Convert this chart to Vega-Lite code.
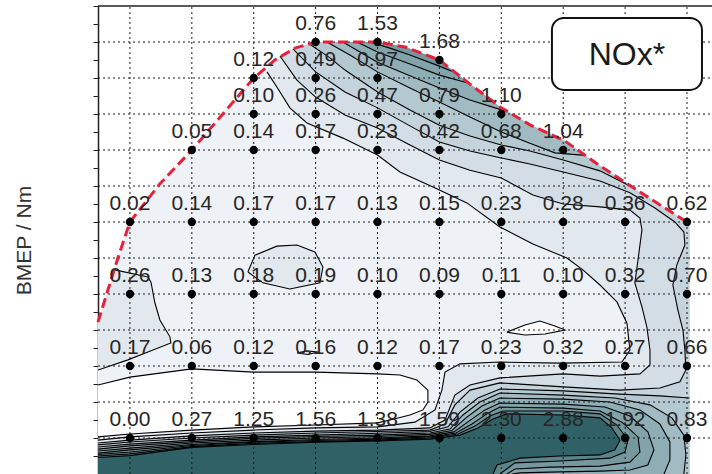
{
  "$schema": "https://vega.github.io/schema/vega-lite/v6.json",
  "width": 614,
  "height": 468,
  "autosize": {"type": "none"},
  "padding": {"left": 98, "top": 6, "right": 0, "bottom": 0},
  "background": "white",
  "config": {
    "view": {"stroke": null},
    "font": "Liberation Sans",
    "axisY": {
      "labels": false, "grid": false, "tickCount": 26,
      "ticks": true, "tickSize": 5, "tickColor": "#222", "tickWidth": 1,
      "domain": true, "domainColor": "#222", "domainWidth": 1.5,
      "titleFont": "Liberation Sans", "titleFontSize": 21, "titleFontWeight": "normal", "titleColor": "#333",
      "titleAngle": 270, "titleX": -74, "titleY": 234, "titleAlign": "center", "titleBaseline": "middle",
      "zindex": 1
    }
  },
  "datasets": {
    "fullload": [
      {"seq": 0, "rpm": 742, "bmep": 42.2}, {"seq": 1, "rpm": 822, "bmep": 51.1}, {"seq": 2, "rpm": 903, "bmep": 60},
      {"seq": 3, "rpm": 1000, "bmep": 70}, {"seq": 4, "rpm": 1242, "bmep": 80.6}, {"seq": 5, "rpm": 1500, "bmep": 90},
      {"seq": 6, "rpm": 1743, "bmep": 99.7}, {"seq": 7, "rpm": 2000, "bmep": 110}, {"seq": 8, "rpm": 2171, "bmep": 115},
      {"seq": 9, "rpm": 2333, "bmep": 118.3}, {"seq": 10, "rpm": 2500, "bmep": 120}, {"seq": 11, "rpm": 3000, "bmep": 120},
      {"seq": 12, "rpm": 3222, "bmep": 118.6}, {"seq": 13, "rpm": 3500, "bmep": 115}, {"seq": 14, "rpm": 3747, "bmep": 108.3},
      {"seq": 15, "rpm": 4000, "bmep": 101.7}, {"seq": 16, "rpm": 4231, "bmep": 97}, {"seq": 17, "rpm": 4514, "bmep": 92.5},
      {"seq": 18, "rpm": 4797, "bmep": 85.6}, {"seq": 19, "rpm": 5120, "bmep": 78.3}, {"seq": 20, "rpm": 5500, "bmep": 70}
    ],
    "pts": [
      {"rpm": 1000, "bmep": 10, "v": 0.00}, {"rpm": 1500, "bmep": 10, "v": 0.27}, {"rpm": 2000, "bmep": 10, "v": 1.25},
      {"rpm": 2500, "bmep": 10, "v": 1.56}, {"rpm": 3000, "bmep": 10, "v": 1.38}, {"rpm": 3500, "bmep": 10, "v": 1.59},
      {"rpm": 4000, "bmep": 10, "v": 2.30}, {"rpm": 4500, "bmep": 10, "v": 2.88}, {"rpm": 5000, "bmep": 10, "v": 1.92},
      {"rpm": 5500, "bmep": 10, "v": 0.83},
      {"rpm": 1000, "bmep": 30, "v": 0.17}, {"rpm": 1500, "bmep": 30, "v": 0.06}, {"rpm": 2000, "bmep": 30, "v": 0.12},
      {"rpm": 2500, "bmep": 30, "v": 0.16}, {"rpm": 3000, "bmep": 30, "v": 0.12}, {"rpm": 3500, "bmep": 30, "v": 0.17},
      {"rpm": 4000, "bmep": 30, "v": 0.23}, {"rpm": 4500, "bmep": 30, "v": 0.32}, {"rpm": 5000, "bmep": 30, "v": 0.27},
      {"rpm": 5500, "bmep": 30, "v": 0.66},
      {"rpm": 1000, "bmep": 50, "v": 0.26}, {"rpm": 1500, "bmep": 50, "v": 0.13}, {"rpm": 2000, "bmep": 50, "v": 0.18},
      {"rpm": 2500, "bmep": 50, "v": 0.19}, {"rpm": 3000, "bmep": 50, "v": 0.10}, {"rpm": 3500, "bmep": 50, "v": 0.09},
      {"rpm": 4000, "bmep": 50, "v": 0.11}, {"rpm": 4500, "bmep": 50, "v": 0.10}, {"rpm": 5000, "bmep": 50, "v": 0.32},
      {"rpm": 5500, "bmep": 50, "v": 0.70},
      {"rpm": 1000, "bmep": 70, "v": 0.02}, {"rpm": 1500, "bmep": 70, "v": 0.14}, {"rpm": 2000, "bmep": 70, "v": 0.17},
      {"rpm": 2500, "bmep": 70, "v": 0.17}, {"rpm": 3000, "bmep": 70, "v": 0.13}, {"rpm": 3500, "bmep": 70, "v": 0.15},
      {"rpm": 4000, "bmep": 70, "v": 0.23}, {"rpm": 4500, "bmep": 70, "v": 0.28}, {"rpm": 5000, "bmep": 70, "v": 0.36},
      {"rpm": 5500, "bmep": 70, "v": 0.62},
      {"rpm": 1500, "bmep": 90, "v": 0.05}, {"rpm": 2000, "bmep": 90, "v": 0.14}, {"rpm": 2500, "bmep": 90, "v": 0.17},
      {"rpm": 3000, "bmep": 90, "v": 0.23}, {"rpm": 3500, "bmep": 90, "v": 0.42}, {"rpm": 4000, "bmep": 90, "v": 0.68},
      {"rpm": 4500, "bmep": 90, "v": 1.04},
      {"rpm": 2000, "bmep": 100, "v": 0.10}, {"rpm": 2500, "bmep": 100, "v": 0.26}, {"rpm": 3000, "bmep": 100, "v": 0.47},
      {"rpm": 3500, "bmep": 100, "v": 0.79}, {"rpm": 4000, "bmep": 100, "v": 1.10},
      {"rpm": 2000, "bmep": 110, "v": 0.12}, {"rpm": 2500, "bmep": 110, "v": 0.49}, {"rpm": 3000, "bmep": 110, "v": 0.97},
      {"rpm": 3500, "bmep": 115, "v": 1.68},
      {"rpm": 2500, "bmep": 120, "v": 0.76}, {"rpm": 3000, "bmep": 120, "v": 1.53}
    ],
    "regions": [
      {"id": "E", "tone": "t0", "seq": 0, "rpm": 742, "bmep": 42.2, "line": 0},
      {"id": "E", "tone": "t0", "seq": 1, "rpm": 822, "bmep": 51.1, "line": 0},
      {"id": "E", "tone": "t0", "seq": 2, "rpm": 903, "bmep": 60, "line": 0},
      {"id": "E", "tone": "t0", "seq": 3, "rpm": 1000, "bmep": 70, "line": 0},
      {"id": "E", "tone": "t0", "seq": 4, "rpm": 1242, "bmep": 80.6, "line": 0},
      {"id": "E", "tone": "t0", "seq": 5, "rpm": 1500, "bmep": 90, "line": 0},
      {"id": "E", "tone": "t0", "seq": 6, "rpm": 1743, "bmep": 99.7, "line": 0},
      {"id": "E", "tone": "t0", "seq": 7, "rpm": 2000, "bmep": 110, "line": 0},
      {"id": "E", "tone": "t0", "seq": 8, "rpm": 2171, "bmep": 115, "line": 0},
      {"id": "E", "tone": "t0", "seq": 9, "rpm": 2333, "bmep": 118.3, "line": 0},
      {"id": "E", "tone": "t0", "seq": 10, "rpm": 2500, "bmep": 120, "line": 0},
      {"id": "E", "tone": "t0", "seq": 11, "rpm": 3000, "bmep": 120, "line": 0},
      {"id": "E", "tone": "t0", "seq": 12, "rpm": 3222, "bmep": 118.6, "line": 0},
      {"id": "E", "tone": "t0", "seq": 13, "rpm": 3500, "bmep": 115, "line": 0},
      {"id": "E", "tone": "t0", "seq": 14, "rpm": 3747, "bmep": 108.3, "line": 0},
      {"id": "E", "tone": "t0", "seq": 15, "rpm": 4000, "bmep": 101.7, "line": 0},
      {"id": "E", "tone": "t0", "seq": 16, "rpm": 4231, "bmep": 97, "line": 0},
      {"id": "E", "tone": "t0", "seq": 17, "rpm": 4514, "bmep": 92.5, "line": 0},
      {"id": "E", "tone": "t0", "seq": 18, "rpm": 4797, "bmep": 85.6, "line": 0},
      {"id": "E", "tone": "t0", "seq": 19, "rpm": 5120, "bmep": 78.3, "line": 0},
      {"id": "E", "tone": "t0", "seq": 20, "rpm": 5500, "bmep": 70, "line": 0},
      {"id": "E", "tone": "t0", "seq": 21, "rpm": 5520, "bmep": 69.5, "line": 0},
      {"id": "E", "tone": "t0", "seq": 22, "rpm": 5520, "bmep": 0, "line": 0},
      {"id": "E", "tone": "t0", "seq": 23, "rpm": 742, "bmep": 0, "line": 0},

      {"id": "L1", "tone": "t1", "seq": 0, "rpm": 2107, "bmep": 111.7, "line": 1},
      {"id": "L1", "tone": "t1", "seq": 1, "rpm": 2187, "bmep": 107.5, "line": 1},
      {"id": "L1", "tone": "t1", "seq": 2, "rpm": 2292, "bmep": 101.7, "line": 1},
      {"id": "L1", "tone": "t1", "seq": 3, "rpm": 2430, "bmep": 97.5, "line": 1},
      {"id": "L1", "tone": "t1", "seq": 4, "rpm": 2721, "bmep": 93.3, "line": 1},
      {"id": "L1", "tone": "t1", "seq": 5, "rpm": 3000, "bmep": 88.6, "line": 1},
      {"id": "L1", "tone": "t1", "seq": 6, "rpm": 3181, "bmep": 83.9, "line": 1},
      {"id": "L1", "tone": "t1", "seq": 7, "rpm": 3448, "bmep": 79.7, "line": 1},
      {"id": "L1", "tone": "t1", "seq": 8, "rpm": 3722, "bmep": 75.3, "line": 1},
      {"id": "L1", "tone": "t1", "seq": 9, "rpm": 3989, "bmep": 68.6, "line": 1},
      {"id": "L1", "tone": "t1", "seq": 10, "rpm": 4255, "bmep": 63.9, "line": 1},
      {"id": "L1", "tone": "t1", "seq": 11, "rpm": 4530, "bmep": 60, "line": 1},
      {"id": "L1", "tone": "t1", "seq": 12, "rpm": 4659, "bmep": 56.7, "line": 1},
      {"id": "L1", "tone": "t1", "seq": 13, "rpm": 4797, "bmep": 52.5, "line": 1},
      {"id": "L1", "tone": "t1", "seq": 14, "rpm": 4934, "bmep": 47.8, "line": 1},
      {"id": "L1", "tone": "t1", "seq": 15, "rpm": 5015, "bmep": 41.9, "line": 1},
      {"id": "L1", "tone": "t1", "seq": 16, "rpm": 5039, "bmep": 34.4, "line": 1},
      {"id": "L1", "tone": "t1", "seq": 17, "rpm": 4974, "bmep": 31.1, "line": 1},
      {"id": "L1", "tone": "t1", "seq": 18, "rpm": 4474, "bmep": 30.8, "line": 1},
      {"id": "L1", "tone": "t1", "seq": 19, "rpm": 3989, "bmep": 31.1, "line": 1},
      {"id": "L1", "tone": "t1", "seq": 20, "rpm": 3666, "bmep": 30.6, "line": 1},
      {"id": "L1", "tone": "t1", "seq": 21, "rpm": 3545, "bmep": 28.3, "line": 1},
      {"id": "L1", "tone": "t1", "seq": 22, "rpm": 3520, "bmep": 23.3, "line": 1},
      {"id": "L1", "tone": "t1", "seq": 23, "rpm": 3464, "bmep": 17.8, "line": 1},
      {"id": "L1", "tone": "t1", "seq": 24, "rpm": 3302, "bmep": 14.4, "line": 1},
      {"id": "L1", "tone": "t1", "seq": 25, "rpm": 3000, "bmep": 13.1, "line": 1},
      {"id": "L1", "tone": "t1", "seq": 26, "rpm": 2500, "bmep": 12.8, "line": 1},
      {"id": "L1", "tone": "t1", "seq": 27, "rpm": 2000, "bmep": 12.2, "line": 1},
      {"id": "L1", "tone": "t1", "seq": 28, "rpm": 1500, "bmep": 11.4, "line": 1},
      {"id": "L1", "tone": "t1", "seq": 29, "rpm": 1000, "bmep": 10.3, "line": 1},
      {"id": "L1", "tone": "t1", "seq": 30, "rpm": 742, "bmep": 9.4, "line": 1},
      {"id": "L1", "tone": "t1", "seq": 31, "rpm": 742, "bmep": 0, "line": 0},
      {"id": "L1", "tone": "t1", "seq": 32, "rpm": 5520, "bmep": 0, "line": 0},
      {"id": "L1", "tone": "t1", "seq": 33, "rpm": 5520, "bmep": 69.5, "line": 0},
      {"id": "L1", "tone": "t1", "seq": 34, "rpm": 5500, "bmep": 70, "line": 0},
      {"id": "L1", "tone": "t1", "seq": 35, "rpm": 5120, "bmep": 78.3, "line": 0},
      {"id": "L1", "tone": "t1", "seq": 36, "rpm": 4797, "bmep": 85.6, "line": 0},
      {"id": "L1", "tone": "t1", "seq": 37, "rpm": 4514, "bmep": 92.5, "line": 0},
      {"id": "L1", "tone": "t1", "seq": 38, "rpm": 4231, "bmep": 97, "line": 0},
      {"id": "L1", "tone": "t1", "seq": 39, "rpm": 4000, "bmep": 101.7, "line": 0},
      {"id": "L1", "tone": "t1", "seq": 40, "rpm": 3747, "bmep": 108.3, "line": 0},
      {"id": "L1", "tone": "t1", "seq": 41, "rpm": 3500, "bmep": 115, "line": 0},
      {"id": "L1", "tone": "t1", "seq": 42, "rpm": 3222, "bmep": 118.6, "line": 0},
      {"id": "L1", "tone": "t1", "seq": 43, "rpm": 3000, "bmep": 120, "line": 0},
      {"id": "L1", "tone": "t1", "seq": 44, "rpm": 2500, "bmep": 120, "line": 0},
      {"id": "L1", "tone": "t1", "seq": 45, "rpm": 2333, "bmep": 118.3, "line": 0},
      {"id": "L1", "tone": "t1", "seq": 46, "rpm": 2171, "bmep": 115, "line": 0},

      {"id": "LA", "tone": "t2", "seq": 0, "rpm": 2212, "bmep": 116.1, "line": 1},
      {"id": "LA", "tone": "t2", "seq": 1, "rpm": 2349, "bmep": 109.4, "line": 1},
      {"id": "LA", "tone": "t2", "seq": 2, "rpm": 2500, "bmep": 104.7, "line": 1},
      {"id": "LA", "tone": "t2", "seq": 3, "rpm": 2737, "bmep": 99.7, "line": 1},
      {"id": "LA", "tone": "t2", "seq": 4, "rpm": 3000, "bmep": 96.1, "line": 1},
      {"id": "LA", "tone": "t2", "seq": 5, "rpm": 3262, "bmep": 91.4, "line": 1},
      {"id": "LA", "tone": "t2", "seq": 6, "rpm": 3500, "bmep": 87.2, "line": 1},
      {"id": "LA", "tone": "t2", "seq": 7, "rpm": 3747, "bmep": 84.4, "line": 1},
      {"id": "LA", "tone": "t2", "seq": 8, "rpm": 4000, "bmep": 82.2, "line": 1},
      {"id": "LA", "tone": "t2", "seq": 9, "rpm": 4255, "bmep": 77.5, "line": 1},
      {"id": "LA", "tone": "t2", "seq": 10, "rpm": 4500, "bmep": 75, "line": 1},
      {"id": "LA", "tone": "t2", "seq": 11, "rpm": 4797, "bmep": 74.2, "line": 1},
      {"id": "LA", "tone": "t2", "seq": 12, "rpm": 5039, "bmep": 73.3, "line": 1},
      {"id": "LA", "tone": "t2", "seq": 13, "rpm": 5120, "bmep": 71.1, "line": 1},
      {"id": "LA", "tone": "t2", "seq": 14, "rpm": 5136, "bmep": 67.8, "line": 1},
      {"id": "LA", "tone": "t2", "seq": 15, "rpm": 5104, "bmep": 59.4, "line": 1},
      {"id": "LA", "tone": "t2", "seq": 16, "rpm": 5079, "bmep": 53.1, "line": 1},
      {"id": "LA", "tone": "t2", "seq": 17, "rpm": 5136, "bmep": 46.4, "line": 1},
      {"id": "LA", "tone": "t2", "seq": 18, "rpm": 5176, "bmep": 40.8, "line": 1},
      {"id": "LA", "tone": "t2", "seq": 19, "rpm": 5201, "bmep": 34.4, "line": 1},
      {"id": "LA", "tone": "t2", "seq": 20, "rpm": 5201, "bmep": 30.3, "line": 1},
      {"id": "LA", "tone": "t2", "seq": 21, "rpm": 5120, "bmep": 27.8, "line": 1},
      {"id": "LA", "tone": "t2", "seq": 22, "rpm": 4797, "bmep": 27.2, "line": 1},
      {"id": "LA", "tone": "t2", "seq": 23, "rpm": 4500, "bmep": 27.8, "line": 1},
      {"id": "LA", "tone": "t2", "seq": 24, "rpm": 3989, "bmep": 26.7, "line": 1},
      {"id": "LA", "tone": "t2", "seq": 25, "rpm": 3747, "bmep": 24.7, "line": 1},
      {"id": "LA", "tone": "t2", "seq": 26, "rpm": 3625, "bmep": 21.9, "line": 1},
      {"id": "LA", "tone": "t2", "seq": 27, "rpm": 3545, "bmep": 15, "line": 1},
      {"id": "LA", "tone": "t2", "seq": 28, "rpm": 3423, "bmep": 12.8, "line": 1},
      {"id": "LA", "tone": "t2", "seq": 29, "rpm": 3000, "bmep": 12.2, "line": 1},
      {"id": "LA", "tone": "t2", "seq": 30, "rpm": 2500, "bmep": 11.9, "line": 1},
      {"id": "LA", "tone": "t2", "seq": 31, "rpm": 2000, "bmep": 11.4, "line": 1},
      {"id": "LA", "tone": "t2", "seq": 32, "rpm": 1500, "bmep": 10.6, "line": 1},
      {"id": "LA", "tone": "t2", "seq": 33, "rpm": 1000, "bmep": 9.4, "line": 1},
      {"id": "LA", "tone": "t2", "seq": 34, "rpm": 742, "bmep": 8.6, "line": 1},
      {"id": "LA", "tone": "t2", "seq": 35, "rpm": 742, "bmep": 0, "line": 0},
      {"id": "LA", "tone": "t2", "seq": 36, "rpm": 5520, "bmep": 0, "line": 0},
      {"id": "LA", "tone": "t2", "seq": 37, "rpm": 5520, "bmep": 69.5, "line": 0},
      {"id": "LA", "tone": "t2", "seq": 38, "rpm": 5500, "bmep": 70, "line": 0},
      {"id": "LA", "tone": "t2", "seq": 39, "rpm": 5120, "bmep": 78.3, "line": 0},
      {"id": "LA", "tone": "t2", "seq": 40, "rpm": 4797, "bmep": 85.6, "line": 0},
      {"id": "LA", "tone": "t2", "seq": 41, "rpm": 4514, "bmep": 92.5, "line": 0},
      {"id": "LA", "tone": "t2", "seq": 42, "rpm": 4231, "bmep": 97, "line": 0},
      {"id": "LA", "tone": "t2", "seq": 43, "rpm": 4000, "bmep": 101.7, "line": 0},
      {"id": "LA", "tone": "t2", "seq": 44, "rpm": 3747, "bmep": 108.3, "line": 0},
      {"id": "LA", "tone": "t2", "seq": 45, "rpm": 3500, "bmep": 115, "line": 0},
      {"id": "LA", "tone": "t2", "seq": 46, "rpm": 3222, "bmep": 118.6, "line": 0},
      {"id": "LA", "tone": "t2", "seq": 47, "rpm": 3000, "bmep": 120, "line": 0},
      {"id": "LA", "tone": "t2", "seq": 48, "rpm": 2500, "bmep": 120, "line": 0},
      {"id": "LA", "tone": "t2", "seq": 49, "rpm": 2333, "bmep": 118.3, "line": 0},

      {"id": "LB", "tone": "t3", "seq": 0, "rpm": 2317, "bmep": 118.1, "line": 1},
      {"id": "LB", "tone": "t3", "seq": 1, "rpm": 2500, "bmep": 111.7, "line": 1},
      {"id": "LB", "tone": "t3", "seq": 2, "rpm": 2737, "bmep": 106.1, "line": 1},
      {"id": "LB", "tone": "t3", "seq": 3, "rpm": 3000, "bmep": 101.7, "line": 1},
      {"id": "LB", "tone": "t3", "seq": 4, "rpm": 3262, "bmep": 96.7, "line": 1},
      {"id": "LB", "tone": "t3", "seq": 5, "rpm": 3500, "bmep": 92.2, "line": 1},
      {"id": "LB", "tone": "t3", "seq": 6, "rpm": 3747, "bmep": 89.7, "line": 1},
      {"id": "LB", "tone": "t3", "seq": 7, "rpm": 4000, "bmep": 87.8, "line": 1},
      {"id": "LB", "tone": "t3", "seq": 8, "rpm": 4231, "bmep": 86.1, "line": 1},
      {"id": "LB", "tone": "t3", "seq": 9, "rpm": 4500, "bmep": 83.9, "line": 1},
      {"id": "LB", "tone": "t3", "seq": 10, "rpm": 4797, "bmep": 81.4, "line": 1},
      {"id": "LB", "tone": "t3", "seq": 11, "rpm": 5039, "bmep": 78.1, "line": 1},
      {"id": "LB", "tone": "t3", "seq": 12, "rpm": 5241, "bmep": 73.9, "line": 1},
      {"id": "LB", "tone": "t3", "seq": 13, "rpm": 5402, "bmep": 70, "line": 1},
      {"id": "LB", "tone": "t3", "seq": 14, "rpm": 5475, "bmep": 67.2, "line": 1},
      {"id": "LB", "tone": "t3", "seq": 15, "rpm": 5483, "bmep": 63.6, "line": 1},
      {"id": "LB", "tone": "t3", "seq": 16, "rpm": 5418, "bmep": 58.1, "line": 1},
      {"id": "LB", "tone": "t3", "seq": 17, "rpm": 5386, "bmep": 52.5, "line": 1},
      {"id": "LB", "tone": "t3", "seq": 18, "rpm": 5426, "bmep": 45.6, "line": 1},
      {"id": "LB", "tone": "t3", "seq": 19, "rpm": 5467, "bmep": 40, "line": 1},
      {"id": "LB", "tone": "t3", "seq": 20, "rpm": 5483, "bmep": 34.4, "line": 1},
      {"id": "LB", "tone": "t3", "seq": 21, "rpm": 5491, "bmep": 28.9, "line": 1},
      {"id": "LB", "tone": "t3", "seq": 22, "rpm": 5443, "bmep": 25.6, "line": 1},
      {"id": "LB", "tone": "t3", "seq": 23, "rpm": 5281, "bmep": 23.9, "line": 1},
      {"id": "LB", "tone": "t3", "seq": 24, "rpm": 4958, "bmep": 23.3, "line": 1},
      {"id": "LB", "tone": "t3", "seq": 25, "rpm": 4500, "bmep": 24.2, "line": 1},
      {"id": "LB", "tone": "t3", "seq": 26, "rpm": 3989, "bmep": 25.3, "line": 1},
      {"id": "LB", "tone": "t3", "seq": 27, "rpm": 3747, "bmep": 23.3, "line": 1},
      {"id": "LB", "tone": "t3", "seq": 28, "rpm": 3625, "bmep": 19.2, "line": 1},
      {"id": "LB", "tone": "t3", "seq": 29, "rpm": 3545, "bmep": 13.9, "line": 1},
      {"id": "LB", "tone": "t3", "seq": 30, "rpm": 3423, "bmep": 12.2, "line": 1},
      {"id": "LB", "tone": "t3", "seq": 31, "rpm": 3000, "bmep": 11.8, "line": 1},
      {"id": "LB", "tone": "t3", "seq": 32, "rpm": 2500, "bmep": 11.4, "line": 1},
      {"id": "LB", "tone": "t3", "seq": 33, "rpm": 2000, "bmep": 10.8, "line": 1},
      {"id": "LB", "tone": "t3", "seq": 34, "rpm": 1500, "bmep": 10, "line": 1},
      {"id": "LB", "tone": "t3", "seq": 35, "rpm": 1000, "bmep": 8.9, "line": 1},
      {"id": "LB", "tone": "t3", "seq": 36, "rpm": 742, "bmep": 8.1, "line": 1},
      {"id": "LB", "tone": "t3", "seq": 37, "rpm": 742, "bmep": 0, "line": 0},
      {"id": "LB", "tone": "t3", "seq": 38, "rpm": 5520, "bmep": 0, "line": 0},
      {"id": "LB", "tone": "t3", "seq": 39, "rpm": 5520, "bmep": 69.5, "line": 0},
      {"id": "LB", "tone": "t3", "seq": 40, "rpm": 5500, "bmep": 70, "line": 0},
      {"id": "LB", "tone": "t3", "seq": 41, "rpm": 5120, "bmep": 78.3, "line": 0},
      {"id": "LB", "tone": "t3", "seq": 42, "rpm": 4797, "bmep": 85.6, "line": 0},
      {"id": "LB", "tone": "t3", "seq": 43, "rpm": 4514, "bmep": 92.5, "line": 0},
      {"id": "LB", "tone": "t3", "seq": 44, "rpm": 4231, "bmep": 97, "line": 0},
      {"id": "LB", "tone": "t3", "seq": 45, "rpm": 4000, "bmep": 101.7, "line": 0},
      {"id": "LB", "tone": "t3", "seq": 46, "rpm": 3747, "bmep": 108.3, "line": 0},
      {"id": "LB", "tone": "t3", "seq": 47, "rpm": 3500, "bmep": 115, "line": 0},
      {"id": "LB", "tone": "t3", "seq": 48, "rpm": 3222, "bmep": 118.6, "line": 0},
      {"id": "LB", "tone": "t3", "seq": 49, "rpm": 3000, "bmep": 120, "line": 0},
      {"id": "LB", "tone": "t3", "seq": 50, "rpm": 2500, "bmep": 120, "line": 0},

      {"id": "LC", "tone": "t4", "seq": 0, "rpm": 2438, "bmep": 119.7, "line": 1},
      {"id": "LC", "tone": "t4", "seq": 1, "rpm": 2616, "bmep": 115.6, "line": 1},
      {"id": "LC", "tone": "t4", "seq": 2, "rpm": 2737, "bmep": 112.2, "line": 1},
      {"id": "LC", "tone": "t4", "seq": 3, "rpm": 3000, "bmep": 106.1, "line": 1},
      {"id": "LC", "tone": "t4", "seq": 4, "rpm": 3262, "bmep": 101.1, "line": 1},
      {"id": "LC", "tone": "t4", "seq": 5, "rpm": 3500, "bmep": 96.9, "line": 1},
      {"id": "LC", "tone": "t4", "seq": 6, "rpm": 3747, "bmep": 93.9, "line": 1},
      {"id": "LC", "tone": "t4", "seq": 7, "rpm": 4000, "bmep": 91.4, "line": 1},
      {"id": "LC", "tone": "t4", "seq": 8, "rpm": 4231, "bmep": 89.7, "line": 1},
      {"id": "LC", "tone": "t4", "seq": 9, "rpm": 4500, "bmep": 87.2, "line": 1},
      {"id": "LC", "tone": "t4", "seq": 10, "rpm": 4797, "bmep": 84.2, "line": 1},
      {"id": "LC", "tone": "t4", "seq": 11, "rpm": 5055, "bmep": 79.7, "line": 1},
      {"id": "LC", "tone": "t4", "seq": 12, "rpm": 4797, "bmep": 85.6, "line": 0},
      {"id": "LC", "tone": "t4", "seq": 13, "rpm": 4514, "bmep": 92.5, "line": 0},
      {"id": "LC", "tone": "t4", "seq": 14, "rpm": 4231, "bmep": 97, "line": 0},
      {"id": "LC", "tone": "t4", "seq": 15, "rpm": 4000, "bmep": 101.7, "line": 0},
      {"id": "LC", "tone": "t4", "seq": 16, "rpm": 3747, "bmep": 108.3, "line": 0},
      {"id": "LC", "tone": "t4", "seq": 17, "rpm": 3500, "bmep": 115, "line": 0},
      {"id": "LC", "tone": "t4", "seq": 18, "rpm": 3222, "bmep": 118.6, "line": 0},
      {"id": "LC", "tone": "t4", "seq": 19, "rpm": 3000, "bmep": 120, "line": 0},
      {"id": "LC", "tone": "t4", "seq": 20, "rpm": 2500, "bmep": 120, "line": 0},

      {"id": "LD", "tone": "t5", "seq": 0, "rpm": 2591, "bmep": 120, "line": 1},
      {"id": "LD", "tone": "t5", "seq": 1, "rpm": 2777, "bmep": 116.4, "line": 1},
      {"id": "LD", "tone": "t5", "seq": 2, "rpm": 3000, "bmep": 111.7, "line": 1},
      {"id": "LD", "tone": "t5", "seq": 3, "rpm": 3262, "bmep": 107.2, "line": 1},
      {"id": "LD", "tone": "t5", "seq": 4, "rpm": 3500, "bmep": 103.3, "line": 1},
      {"id": "LD", "tone": "t5", "seq": 5, "rpm": 3747, "bmep": 99.2, "line": 1},
      {"id": "LD", "tone": "t5", "seq": 6, "rpm": 4000, "bmep": 95, "line": 1},
      {"id": "LD", "tone": "t5", "seq": 7, "rpm": 4231, "bmep": 91.9, "line": 1},
      {"id": "LD", "tone": "t5", "seq": 8, "rpm": 4433, "bmep": 89.2, "line": 1},
      {"id": "LD", "tone": "t5", "seq": 9, "rpm": 4676, "bmep": 88.5, "line": 1},
      {"id": "LD", "tone": "t5", "seq": 10, "rpm": 4514, "bmep": 92.5, "line": 0},
      {"id": "LD", "tone": "t5", "seq": 11, "rpm": 4231, "bmep": 97, "line": 0},
      {"id": "LD", "tone": "t5", "seq": 12, "rpm": 4000, "bmep": 101.7, "line": 0},
      {"id": "LD", "tone": "t5", "seq": 13, "rpm": 3747, "bmep": 108.3, "line": 0},
      {"id": "LD", "tone": "t5", "seq": 14, "rpm": 3500, "bmep": 115, "line": 0},
      {"id": "LD", "tone": "t5", "seq": 15, "rpm": 3222, "bmep": 118.6, "line": 0},
      {"id": "LD", "tone": "t5", "seq": 16, "rpm": 3000, "bmep": 120, "line": 0},

      {"id": "LE", "tone": "t6", "seq": 0, "rpm": 2721, "bmep": 120, "line": 1},
      {"id": "LE", "tone": "t6", "seq": 1, "rpm": 2858, "bmep": 117.2, "line": 1},
      {"id": "LE", "tone": "t6", "seq": 2, "rpm": 3000, "bmep": 114.4, "line": 1},
      {"id": "LE", "tone": "t6", "seq": 3, "rpm": 3262, "bmep": 110.6, "line": 1},
      {"id": "LE", "tone": "t6", "seq": 4, "rpm": 3500, "bmep": 107.2, "line": 1},
      {"id": "LE", "tone": "t6", "seq": 5, "rpm": 3747, "bmep": 103.9, "line": 1},
      {"id": "LE", "tone": "t6", "seq": 6, "rpm": 3949, "bmep": 101.7, "line": 1},
      {"id": "LE", "tone": "t6", "seq": 7, "rpm": 4045, "bmep": 100.8, "line": 1},
      {"id": "LE", "tone": "t6", "seq": 8, "rpm": 4000, "bmep": 101.7, "line": 0},
      {"id": "LE", "tone": "t6", "seq": 9, "rpm": 3747, "bmep": 108.3, "line": 0},
      {"id": "LE", "tone": "t6", "seq": 10, "rpm": 3500, "bmep": 115, "line": 0},
      {"id": "LE", "tone": "t6", "seq": 11, "rpm": 3222, "bmep": 118.6, "line": 0},
      {"id": "LE", "tone": "t6", "seq": 12, "rpm": 3000, "bmep": 120, "line": 0},

      {"id": "LF", "tone": "t7", "seq": 0, "rpm": 2834, "bmep": 120, "line": 1},
      {"id": "LF", "tone": "t7", "seq": 1, "rpm": 3000, "bmep": 117.2, "line": 1},
      {"id": "LF", "tone": "t7", "seq": 2, "rpm": 3262, "bmep": 113.9, "line": 1},
      {"id": "LF", "tone": "t7", "seq": 3, "rpm": 3500, "bmep": 110.8, "line": 1},
      {"id": "LF", "tone": "t7", "seq": 4, "rpm": 3650, "bmep": 109.4, "line": 1},
      {"id": "LF", "tone": "t7", "seq": 5, "rpm": 3730, "bmep": 108.6, "line": 1},
      {"id": "LF", "tone": "t7", "seq": 6, "rpm": 3500, "bmep": 115, "line": 0},
      {"id": "LF", "tone": "t7", "seq": 7, "rpm": 3222, "bmep": 118.6, "line": 0},
      {"id": "LF", "tone": "t7", "seq": 8, "rpm": 3000, "bmep": 120, "line": 0},

      {"id": "LG", "tone": "t8", "seq": 0, "rpm": 2939, "bmep": 120, "line": 1},
      {"id": "LG", "tone": "t8", "seq": 1, "rpm": 3100, "bmep": 118.3, "line": 1},
      {"id": "LG", "tone": "t8", "seq": 2, "rpm": 3262, "bmep": 116.4, "line": 1},
      {"id": "LG", "tone": "t8", "seq": 3, "rpm": 3500, "bmep": 113.3, "line": 1},
      {"id": "LG", "tone": "t8", "seq": 4, "rpm": 3601, "bmep": 111.9, "line": 1},
      {"id": "LG", "tone": "t8", "seq": 5, "rpm": 3500, "bmep": 115, "line": 0},
      {"id": "LG", "tone": "t8", "seq": 6, "rpm": 3222, "bmep": 118.6, "line": 0},
      {"id": "LG", "tone": "t8", "seq": 7, "rpm": 3000, "bmep": 120, "line": 0},

      {"id": "B07", "tone": "t4", "seq": 0, "rpm": 742, "bmep": 7.5, "line": 1},
      {"id": "B07", "tone": "t4", "seq": 1, "rpm": 1000, "bmep": 8.3, "line": 1},
      {"id": "B07", "tone": "t4", "seq": 2, "rpm": 1500, "bmep": 9.4, "line": 1},
      {"id": "B07", "tone": "t4", "seq": 3, "rpm": 2000, "bmep": 10.3, "line": 1},
      {"id": "B07", "tone": "t4", "seq": 4, "rpm": 2500, "bmep": 10.8, "line": 1},
      {"id": "B07", "tone": "t4", "seq": 5, "rpm": 3000, "bmep": 11.3, "line": 1},
      {"id": "B07", "tone": "t4", "seq": 6, "rpm": 3423, "bmep": 11.8, "line": 1},
      {"id": "B07", "tone": "t4", "seq": 7, "rpm": 3569, "bmep": 13.1, "line": 1},
      {"id": "B07", "tone": "t4", "seq": 8, "rpm": 3666, "bmep": 17.2, "line": 1},
      {"id": "B07", "tone": "t4", "seq": 9, "rpm": 3811, "bmep": 21.1, "line": 1},
      {"id": "B07", "tone": "t4", "seq": 10, "rpm": 3989, "bmep": 23.6, "line": 1},
      {"id": "B07", "tone": "t4", "seq": 11, "rpm": 4500, "bmep": 23.1, "line": 1},
      {"id": "B07", "tone": "t4", "seq": 12, "rpm": 4958, "bmep": 22.2, "line": 1},
      {"id": "B07", "tone": "t4", "seq": 13, "rpm": 5281, "bmep": 21.7, "line": 1},
      {"id": "B07", "tone": "t4", "seq": 14, "rpm": 5520, "bmep": 21.1, "line": 1},
      {"id": "B07", "tone": "t4", "seq": 15, "rpm": 5520, "bmep": 0, "line": 0},
      {"id": "B07", "tone": "t4", "seq": 16, "rpm": 742, "bmep": 0, "line": 0},

      {"id": "B09", "tone": "t5", "seq": 0, "rpm": 742, "bmep": 6.9, "line": 1},
      {"id": "B09", "tone": "t5", "seq": 1, "rpm": 1000, "bmep": 7.8, "line": 1},
      {"id": "B09", "tone": "t5", "seq": 2, "rpm": 1500, "bmep": 9, "line": 1},
      {"id": "B09", "tone": "t5", "seq": 3, "rpm": 2000, "bmep": 9.9, "line": 1},
      {"id": "B09", "tone": "t5", "seq": 4, "rpm": 2500, "bmep": 10.4, "line": 1},
      {"id": "B09", "tone": "t5", "seq": 5, "rpm": 3000, "bmep": 10.8, "line": 1},
      {"id": "B09", "tone": "t5", "seq": 6, "rpm": 3423, "bmep": 11.4, "line": 1},
      {"id": "B09", "tone": "t5", "seq": 7, "rpm": 3585, "bmep": 12.5, "line": 1},
      {"id": "B09", "tone": "t5", "seq": 8, "rpm": 3690, "bmep": 16.4, "line": 1},
      {"id": "B09", "tone": "t5", "seq": 9, "rpm": 3827, "bmep": 20, "line": 1},
      {"id": "B09", "tone": "t5", "seq": 10, "rpm": 3989, "bmep": 22.5, "line": 1},
      {"id": "B09", "tone": "t5", "seq": 11, "rpm": 4500, "bmep": 21.9, "line": 1},
      {"id": "B09", "tone": "t5", "seq": 12, "rpm": 4918, "bmep": 21.1, "line": 1},
      {"id": "B09", "tone": "t5", "seq": 13, "rpm": 5201, "bmep": 19.2, "line": 1},
      {"id": "B09", "tone": "t5", "seq": 14, "rpm": 5378, "bmep": 15.6, "line": 1},
      {"id": "B09", "tone": "t5", "seq": 15, "rpm": 5475, "bmep": 10.8, "line": 1},
      {"id": "B09", "tone": "t5", "seq": 16, "rpm": 5491, "bmep": 5.3, "line": 1},
      {"id": "B09", "tone": "t5", "seq": 17, "rpm": 5475, "bmep": 0, "line": 1},
      {"id": "B09", "tone": "t5", "seq": 18, "rpm": 742, "bmep": 0, "line": 0},

      {"id": "B11", "tone": "t6", "seq": 0, "rpm": 742, "bmep": 6.4, "line": 1},
      {"id": "B11", "tone": "t6", "seq": 1, "rpm": 1000, "bmep": 7.2, "line": 1},
      {"id": "B11", "tone": "t6", "seq": 2, "rpm": 1500, "bmep": 8.6, "line": 1},
      {"id": "B11", "tone": "t6", "seq": 3, "rpm": 2000, "bmep": 9.4, "line": 1},
      {"id": "B11", "tone": "t6", "seq": 4, "rpm": 2500, "bmep": 10, "line": 1},
      {"id": "B11", "tone": "t6", "seq": 5, "rpm": 3000, "bmep": 10.4, "line": 1},
      {"id": "B11", "tone": "t6", "seq": 6, "rpm": 3423, "bmep": 11, "line": 1},
      {"id": "B11", "tone": "t6", "seq": 7, "rpm": 3601, "bmep": 12.1, "line": 1},
      {"id": "B11", "tone": "t6", "seq": 8, "rpm": 3714, "bmep": 15.6, "line": 1},
      {"id": "B11", "tone": "t6", "seq": 9, "rpm": 3843, "bmep": 18.9, "line": 1},
      {"id": "B11", "tone": "t6", "seq": 10, "rpm": 3989, "bmep": 21.1, "line": 1},
      {"id": "B11", "tone": "t6", "seq": 11, "rpm": 4500, "bmep": 20.8, "line": 1},
      {"id": "B11", "tone": "t6", "seq": 12, "rpm": 4877, "bmep": 20, "line": 1},
      {"id": "B11", "tone": "t6", "seq": 13, "rpm": 5120, "bmep": 17.8, "line": 1},
      {"id": "B11", "tone": "t6", "seq": 14, "rpm": 5281, "bmep": 13.9, "line": 1},
      {"id": "B11", "tone": "t6", "seq": 15, "rpm": 5362, "bmep": 8.9, "line": 1},
      {"id": "B11", "tone": "t6", "seq": 16, "rpm": 5362, "bmep": 3.9, "line": 1},
      {"id": "B11", "tone": "t6", "seq": 17, "rpm": 5314, "bmep": 0, "line": 1},
      {"id": "B11", "tone": "t6", "seq": 18, "rpm": 742, "bmep": 0, "line": 0},

      {"id": "B13", "tone": "t7", "seq": 0, "rpm": 742, "bmep": 5.8, "line": 1},
      {"id": "B13", "tone": "t7", "seq": 1, "rpm": 1000, "bmep": 6.7, "line": 1},
      {"id": "B13", "tone": "t7", "seq": 2, "rpm": 1500, "bmep": 8.2, "line": 1},
      {"id": "B13", "tone": "t7", "seq": 3, "rpm": 2000, "bmep": 9, "line": 1},
      {"id": "B13", "tone": "t7", "seq": 4, "rpm": 2500, "bmep": 9.6, "line": 1},
      {"id": "B13", "tone": "t7", "seq": 5, "rpm": 3000, "bmep": 10, "line": 1},
      {"id": "B13", "tone": "t7", "seq": 6, "rpm": 3423, "bmep": 10.6, "line": 1},
      {"id": "B13", "tone": "t7", "seq": 7, "rpm": 3617, "bmep": 11.7, "line": 1},
      {"id": "B13", "tone": "t7", "seq": 8, "rpm": 3739, "bmep": 14.7, "line": 1},
      {"id": "B13", "tone": "t7", "seq": 9, "rpm": 3868, "bmep": 17.8, "line": 1},
      {"id": "B13", "tone": "t7", "seq": 10, "rpm": 3989, "bmep": 19.7, "line": 1},
      {"id": "B13", "tone": "t7", "seq": 11, "rpm": 4500, "bmep": 19.4, "line": 1},
      {"id": "B13", "tone": "t7", "seq": 12, "rpm": 4837, "bmep": 18.6, "line": 1},
      {"id": "B13", "tone": "t7", "seq": 13, "rpm": 5039, "bmep": 16.1, "line": 1},
      {"id": "B13", "tone": "t7", "seq": 14, "rpm": 5184, "bmep": 11.7, "line": 1},
      {"id": "B13", "tone": "t7", "seq": 15, "rpm": 5233, "bmep": 6.7, "line": 1},
      {"id": "B13", "tone": "t7", "seq": 16, "rpm": 5184, "bmep": 2.5, "line": 1},
      {"id": "B13", "tone": "t7", "seq": 17, "rpm": 5039, "bmep": 1.1, "line": 1},
      {"id": "B13", "tone": "t7", "seq": 18, "rpm": 4797, "bmep": 0.8, "line": 1},
      {"id": "B13", "tone": "t7", "seq": 19, "rpm": 4474, "bmep": 0.6, "line": 1},
      {"id": "B13", "tone": "t7", "seq": 20, "rpm": 4150, "bmep": 0.3, "line": 1},
      {"id": "B13", "tone": "t7", "seq": 21, "rpm": 4086, "bmep": 0, "line": 1},
      {"id": "B13", "tone": "t7", "seq": 22, "rpm": 742, "bmep": 0, "line": 0},

      {"id": "B15", "tone": "t8", "seq": 0, "rpm": 742, "bmep": 5.4, "line": 1},
      {"id": "B15", "tone": "t8", "seq": 1, "rpm": 1000, "bmep": 6.1, "line": 1},
      {"id": "B15", "tone": "t8", "seq": 2, "rpm": 1500, "bmep": 7.9, "line": 1},
      {"id": "B15", "tone": "t8", "seq": 3, "rpm": 2000, "bmep": 8.8, "line": 1},
      {"id": "B15", "tone": "t8", "seq": 4, "rpm": 2500, "bmep": 9.3, "line": 1},
      {"id": "B15", "tone": "t8", "seq": 5, "rpm": 3000, "bmep": 9.7, "line": 1},
      {"id": "B15", "tone": "t8", "seq": 6, "rpm": 3423, "bmep": 10.3, "line": 1},
      {"id": "B15", "tone": "t8", "seq": 7, "rpm": 3633, "bmep": 11.4, "line": 1},
      {"id": "B15", "tone": "t8", "seq": 8, "rpm": 3763, "bmep": 13.9, "line": 1},
      {"id": "B15", "tone": "t8", "seq": 9, "rpm": 3892, "bmep": 16.9, "line": 1},
      {"id": "B15", "tone": "t8", "seq": 10, "rpm": 3989, "bmep": 18.6, "line": 1},
      {"id": "B15", "tone": "t8", "seq": 11, "rpm": 4500, "bmep": 18.3, "line": 1},
      {"id": "B15", "tone": "t8", "seq": 12, "rpm": 4797, "bmep": 17.5, "line": 1},
      {"id": "B15", "tone": "t8", "seq": 13, "rpm": 4974, "bmep": 14.4, "line": 1},
      {"id": "B15", "tone": "t8", "seq": 14, "rpm": 5104, "bmep": 10.3, "line": 1},
      {"id": "B15", "tone": "t8", "seq": 15, "rpm": 5120, "bmep": 6.1, "line": 1},
      {"id": "B15", "tone": "t8", "seq": 16, "rpm": 5039, "bmep": 3.3, "line": 1},
      {"id": "B15", "tone": "t8", "seq": 17, "rpm": 4797, "bmep": 2.2, "line": 1},
      {"id": "B15", "tone": "t8", "seq": 18, "rpm": 4393, "bmep": 1.9, "line": 1},
      {"id": "B15", "tone": "t8", "seq": 19, "rpm": 4110, "bmep": 1.4, "line": 1},
      {"id": "B15", "tone": "t8", "seq": 20, "rpm": 4045, "bmep": 0, "line": 1},
      {"id": "B15", "tone": "t8", "seq": 21, "rpm": 742, "bmep": 0, "line": 0},

      {"id": "B17", "tone": "t9", "seq": 0, "rpm": 742, "bmep": 5, "line": 1},
      {"id": "B17", "tone": "t9", "seq": 1, "rpm": 1000, "bmep": 5.6, "line": 1},
      {"id": "B17", "tone": "t9", "seq": 2, "rpm": 1500, "bmep": 7.6, "line": 1},
      {"id": "B17", "tone": "t9", "seq": 3, "rpm": 2000, "bmep": 8.5, "line": 1},
      {"id": "B17", "tone": "t9", "seq": 4, "rpm": 2500, "bmep": 9, "line": 1},
      {"id": "B17", "tone": "t9", "seq": 5, "rpm": 3000, "bmep": 9.4, "line": 1},
      {"id": "B17", "tone": "t9", "seq": 6, "rpm": 3423, "bmep": 10, "line": 1},
      {"id": "B17", "tone": "t9", "seq": 7, "rpm": 3650, "bmep": 11.1, "line": 1},
      {"id": "B17", "tone": "t9", "seq": 8, "rpm": 3787, "bmep": 13.3, "line": 1},
      {"id": "B17", "tone": "t9", "seq": 9, "rpm": 3908, "bmep": 16.1, "line": 1},
      {"id": "B17", "tone": "t9", "seq": 10, "rpm": 4013, "bmep": 17.5, "line": 1},
      {"id": "B17", "tone": "t9", "seq": 11, "rpm": 4500, "bmep": 17.5, "line": 1},
      {"id": "B17", "tone": "t9", "seq": 12, "rpm": 4797, "bmep": 16.7, "line": 1},
      {"id": "B17", "tone": "t9", "seq": 13, "rpm": 4934, "bmep": 13.6, "line": 1},
      {"id": "B17", "tone": "t9", "seq": 14, "rpm": 5023, "bmep": 9.4, "line": 1},
      {"id": "B17", "tone": "t9", "seq": 15, "rpm": 4999, "bmep": 6.1, "line": 1},
      {"id": "B17", "tone": "t9", "seq": 16, "rpm": 4877, "bmep": 4.4, "line": 1},
      {"id": "B17", "tone": "t9", "seq": 17, "rpm": 4474, "bmep": 3.6, "line": 1},
      {"id": "B17", "tone": "t9", "seq": 18, "rpm": 4110, "bmep": 3.1, "line": 1},
      {"id": "B17", "tone": "t9", "seq": 19, "rpm": 3989, "bmep": 0, "line": 1},
      {"id": "B17", "tone": "t9", "seq": 20, "rpm": 742, "bmep": 0, "line": 0},

      {"id": "B19", "tone": "t10", "seq": 0, "rpm": 742, "bmep": 4.6, "line": 1},
      {"id": "B19", "tone": "t10", "seq": 1, "rpm": 1000, "bmep": 5.1, "line": 1},
      {"id": "B19", "tone": "t10", "seq": 2, "rpm": 1500, "bmep": 7.4, "line": 1},
      {"id": "B19", "tone": "t10", "seq": 3, "rpm": 2000, "bmep": 8.2, "line": 1},
      {"id": "B19", "tone": "t10", "seq": 4, "rpm": 2500, "bmep": 8.8, "line": 1},
      {"id": "B19", "tone": "t10", "seq": 5, "rpm": 3000, "bmep": 9.2, "line": 1},
      {"id": "B19", "tone": "t10", "seq": 6, "rpm": 3423, "bmep": 9.7, "line": 1},
      {"id": "B19", "tone": "t10", "seq": 7, "rpm": 3666, "bmep": 10.8, "line": 1},
      {"id": "B19", "tone": "t10", "seq": 8, "rpm": 3811, "bmep": 12.8, "line": 1},
      {"id": "B19", "tone": "t10", "seq": 9, "rpm": 3933, "bmep": 15.3, "line": 1},
      {"id": "B19", "tone": "t10", "seq": 10, "rpm": 4045, "bmep": 16.7, "line": 1},
      {"id": "B19", "tone": "t10", "seq": 11, "rpm": 4500, "bmep": 16.4, "line": 1},
      {"id": "B19", "tone": "t10", "seq": 12, "rpm": 4797, "bmep": 15.6, "line": 1},
      {"id": "B19", "tone": "t10", "seq": 13, "rpm": 4894, "bmep": 12.8, "line": 1},
      {"id": "B19", "tone": "t10", "seq": 14, "rpm": 4958, "bmep": 9.4, "line": 1},
      {"id": "B19", "tone": "t10", "seq": 15, "rpm": 4918, "bmep": 6.7, "line": 1},
      {"id": "B19", "tone": "t10", "seq": 16, "rpm": 4797, "bmep": 5.3, "line": 1},
      {"id": "B19", "tone": "t10", "seq": 17, "rpm": 4474, "bmep": 5, "line": 1},
      {"id": "B19", "tone": "t10", "seq": 18, "rpm": 4150, "bmep": 4.4, "line": 1},
      {"id": "B19", "tone": "t10", "seq": 19, "rpm": 3965, "bmep": 2.5, "line": 1},
      {"id": "B19", "tone": "t10", "seq": 20, "rpm": 3933, "bmep": 0, "line": 1},
      {"id": "B19", "tone": "t10", "seq": 21, "rpm": 742, "bmep": 0, "line": 0},

      {"id": "Bump", "tone": "t1", "seq": 0, "rpm": 879, "bmep": 56.7, "line": 1},
      {"id": "Bump", "tone": "t1", "seq": 1, "rpm": 1145, "bmep": 54.7, "line": 1},
      {"id": "Bump", "tone": "t1", "seq": 2, "rpm": 1170, "bmep": 53.3, "line": 1},
      {"id": "Bump", "tone": "t1", "seq": 3, "rpm": 1202, "bmep": 47.5, "line": 1},
      {"id": "Bump", "tone": "t1", "seq": 4, "rpm": 1242, "bmep": 42.8, "line": 1},
      {"id": "Bump", "tone": "t1", "seq": 5, "rpm": 1323, "bmep": 38.1, "line": 1},
      {"id": "Bump", "tone": "t1", "seq": 6, "rpm": 1331, "bmep": 36.4, "line": 1},
      {"id": "Bump", "tone": "t1", "seq": 7, "rpm": 1145, "bmep": 33.9, "line": 1},
      {"id": "Bump", "tone": "t1", "seq": 8, "rpm": 984, "bmep": 31.7, "line": 1},
      {"id": "Bump", "tone": "t1", "seq": 9, "rpm": 742, "bmep": 28.9, "line": 1},
      {"id": "Bump", "tone": "t1", "seq": 10, "rpm": 742, "bmep": 42.2, "line": 0},
      {"id": "Bump", "tone": "t1", "seq": 11, "rpm": 822, "bmep": 51.1, "line": 0},

      {"id": "Ell", "tone": "t1", "seq": 0, "rpm": 1953, "bmep": 56.1, "line": 1},
      {"id": "Ell", "tone": "t1", "seq": 1, "rpm": 2010, "bmep": 60.8, "line": 1},
      {"id": "Ell", "tone": "t1", "seq": 2, "rpm": 2187, "bmep": 63.3, "line": 1},
      {"id": "Ell", "tone": "t1", "seq": 3, "rpm": 2349, "bmep": 63.6, "line": 1},
      {"id": "Ell", "tone": "t1", "seq": 4, "rpm": 2494, "bmep": 61.7, "line": 1},
      {"id": "Ell", "tone": "t1", "seq": 5, "rpm": 2559, "bmep": 57.5, "line": 1},
      {"id": "Ell", "tone": "t1", "seq": 6, "rpm": 2535, "bmep": 53.1, "line": 1},
      {"id": "Ell", "tone": "t1", "seq": 7, "rpm": 2292, "bmep": 51.4, "line": 1},
      {"id": "Ell", "tone": "t1", "seq": 8, "rpm": 2074, "bmep": 53.1, "line": 1},
      {"id": "Ell", "tone": "t1", "seq": 9, "rpm": 1953, "bmep": 56.1, "line": 1},

      {"id": "Tiny", "tone": "t1", "seq": 0, "rpm": 2349, "bmep": 33.6, "line": 1},
      {"id": "Tiny", "tone": "t1", "seq": 1, "rpm": 2430, "bmep": 34.2, "line": 1},
      {"id": "Tiny", "tone": "t1", "seq": 2, "rpm": 2519, "bmep": 33.9, "line": 1},
      {"id": "Tiny", "tone": "t1", "seq": 3, "rpm": 2438, "bmep": 33.2, "line": 1},
      {"id": "Tiny", "tone": "t1", "seq": 4, "rpm": 2349, "bmep": 33.6, "line": 1},

      {"id": "W", "tone": "w", "seq": 0, "rpm": 742, "bmep": 24.7, "line": 1},
      {"id": "W", "tone": "w", "seq": 1, "rpm": 1000, "bmep": 26.9, "line": 1},
      {"id": "W", "tone": "w", "seq": 2, "rpm": 1500, "bmep": 29.2, "line": 1},
      {"id": "W", "tone": "w", "seq": 3, "rpm": 2000, "bmep": 28.3, "line": 1},
      {"id": "W", "tone": "w", "seq": 4, "rpm": 2500, "bmep": 28.3, "line": 1},
      {"id": "W", "tone": "w", "seq": 5, "rpm": 3000, "bmep": 27.8, "line": 1},
      {"id": "W", "tone": "w", "seq": 6, "rpm": 3181, "bmep": 27.5, "line": 1},
      {"id": "W", "tone": "w", "seq": 7, "rpm": 3318, "bmep": 26.1, "line": 1},
      {"id": "W", "tone": "w", "seq": 8, "rpm": 3407, "bmep": 23.3, "line": 1},
      {"id": "W", "tone": "w", "seq": 9, "rpm": 3407, "bmep": 20, "line": 1},
      {"id": "W", "tone": "w", "seq": 10, "rpm": 3367, "bmep": 17.8, "line": 1},
      {"id": "W", "tone": "w", "seq": 11, "rpm": 3262, "bmep": 16.4, "line": 1},
      {"id": "W", "tone": "w", "seq": 12, "rpm": 3100, "bmep": 15, "line": 1},
      {"id": "W", "tone": "w", "seq": 13, "rpm": 3000, "bmep": 14.2, "line": 1},
      {"id": "W", "tone": "w", "seq": 14, "rpm": 2500, "bmep": 13.6, "line": 1},
      {"id": "W", "tone": "w", "seq": 15, "rpm": 2000, "bmep": 13.1, "line": 1},
      {"id": "W", "tone": "w", "seq": 16, "rpm": 1500, "bmep": 12.2, "line": 1},
      {"id": "W", "tone": "w", "seq": 17, "rpm": 1000, "bmep": 11.1, "line": 1},
      {"id": "W", "tone": "w", "seq": 18, "rpm": 742, "bmep": 10.3, "line": 1},

      {"id": "Lens", "tone": "w", "seq": 0, "rpm": 4045, "bmep": 39.4, "line": 1},
      {"id": "Lens", "tone": "w", "seq": 1, "rpm": 4191, "bmep": 41.4, "line": 1},
      {"id": "Lens", "tone": "w", "seq": 2, "rpm": 4312, "bmep": 42.5, "line": 1},
      {"id": "Lens", "tone": "w", "seq": 3, "rpm": 4433, "bmep": 41.1, "line": 1},
      {"id": "Lens", "tone": "w", "seq": 4, "rpm": 4514, "bmep": 40, "line": 1},
      {"id": "Lens", "tone": "w", "seq": 5, "rpm": 4352, "bmep": 38.9, "line": 1},
      {"id": "Lens", "tone": "w", "seq": 6, "rpm": 4191, "bmep": 38.6, "line": 1},
      {"id": "Lens", "tone": "w", "seq": 7, "rpm": 4045, "bmep": 39.4, "line": 1}
    ]
  },
  "layer": [
    {
      "data": {"name": "regions"},
      "mark": {"type": "line", "interpolate": "linear-closed", "strokeWidth": 0, "clip": true},
      "encoding": {
        "x": {"field": "rpm", "type": "quantitative", "scale": {"domain": [742, 5702], "nice": false, "zero": false}, "axis": null},
        "y": {
          "field": "bmep", "type": "quantitative",
          "scale": {"domain": [0, 130], "nice": false, "zero": false},
          "axis": {"title": "BMEP / Nm"}
        },
        "fill": {
          "field": "tone", "type": "nominal", "legend": null,
          "scale": {
            "domain": ["t0", "t1", "t2", "t3", "t4", "t5", "t6", "t7", "t8", "t9", "t10", "w"],
            "range": ["#eef2f6", "#e1e8ee", "#d3dde5", "#c4d3dc", "#b4c8d0", "#a2bbc3", "#8fadb5", "#82a3a9", "#74989e", "#5a868b", "#2f6166", "#ffffff"]
          }
        },
        "detail": {"field": "id", "type": "nominal"},
        "order": {"field": "seq", "type": "quantitative"}
      }
    },
    {
      "data": {"name": "regions"},
      "transform": [{"filter": "datum.line == 1"}],
      "mark": {"type": "line", "color": "#000000", "strokeWidth": 1.1, "clip": true},
      "encoding": {
        "x": {"field": "rpm", "type": "quantitative", "axis": null},
        "y": {"field": "bmep", "type": "quantitative"},
        "detail": {"field": "id", "type": "nominal"},
        "order": {"field": "seq", "type": "quantitative"}
      }
    },
    {
      "data": {"values": [{"rpm": 1000}, {"rpm": 1500}, {"rpm": 2000}, {"rpm": 2500}, {"rpm": 3000}, {"rpm": 3500}, {"rpm": 4000}, {"rpm": 4500}, {"rpm": 5000}, {"rpm": 5500}]},
      "mark": {"type": "rule", "color": "#1a1a1a", "strokeWidth": 1, "strokeDash": [2, 3]},
      "encoding": {
        "x": {"field": "rpm", "type": "quantitative", "axis": null},
        "y": {"datum": 0, "type": "quantitative"},
        "y2": {"datum": 130}
      }
    },
    {
      "data": {"values": [{"bmep": 10}, {"bmep": 20}, {"bmep": 30}, {"bmep": 40}, {"bmep": 50}, {"bmep": 60}, {"bmep": 70}, {"bmep": 80}, {"bmep": 90}, {"bmep": 100}, {"bmep": 110}, {"bmep": 120}]},
      "mark": {"type": "rule", "color": "#1a1a1a", "strokeWidth": 1, "strokeDash": [2, 3]},
      "encoding": {
        "x": {"datum": 742, "type": "quantitative", "axis": null},
        "x2": {"datum": 5702},
        "y": {"field": "bmep", "type": "quantitative"}
      }
    },
    {
      "data": {"values": [{"bmep": 130}]},
      "mark": {"type": "rule", "color": "#222", "strokeWidth": 1.5},
      "encoding": {
        "x": {"datum": 742, "type": "quantitative", "axis": null},
        "x2": {"datum": 5702},
        "y": {"field": "bmep", "type": "quantitative"}
      }
    },
    {
      "data": {"name": "fullload"},
      "mark": {"type": "line", "color": "#e3223d", "strokeWidth": 3, "strokeDash": [10, 5]},
      "encoding": {
        "x": {"field": "rpm", "type": "quantitative", "axis": null},
        "y": {"field": "bmep", "type": "quantitative"},
        "order": {"field": "seq", "type": "quantitative"}
      }
    },
    {
      "data": {"name": "pts"},
      "mark": {"type": "circle", "size": 70, "color": "#000000", "opacity": 1},
      "encoding": {
        "x": {"field": "rpm", "type": "quantitative", "axis": null},
        "y": {"field": "bmep", "type": "quantitative"}
      }
    },
    {
      "data": {"name": "pts"},
      "mark": {"type": "text", "fontSize": 21, "dy": -12, "baseline": "alphabetic", "align": "center", "color": "#262626"},
      "encoding": {
        "x": {"field": "rpm", "type": "quantitative", "axis": null},
        "y": {"field": "bmep", "type": "quantitative"},
        "text": {"field": "v", "type": "quantitative", "format": ".2f"}
      }
    },
    {
      "data": {"values": [{}]},
      "mark": {"type": "rect", "cornerRadius": 12, "fill": "white", "stroke": "#111", "strokeWidth": 2},
      "encoding": {
        "x": {"datum": 4409, "type": "quantitative", "axis": null},
        "x2": {"datum": 5621},
        "y": {"datum": 126.7, "type": "quantitative"},
        "y2": {"datum": 106.7}
      }
    },
    {
      "data": {"values": [{"name": "NOx*"}]},
      "mark": {"type": "text", "fontSize": 32, "align": "center", "baseline": "alphabetic", "color": "#1a1a1a"},
      "encoding": {
        "x": {"datum": 5015, "type": "quantitative", "axis": null},
        "y": {"datum": 113.6, "type": "quantitative"},
        "text": {"field": "name", "type": "nominal"}
      }
    }
  ]
}
